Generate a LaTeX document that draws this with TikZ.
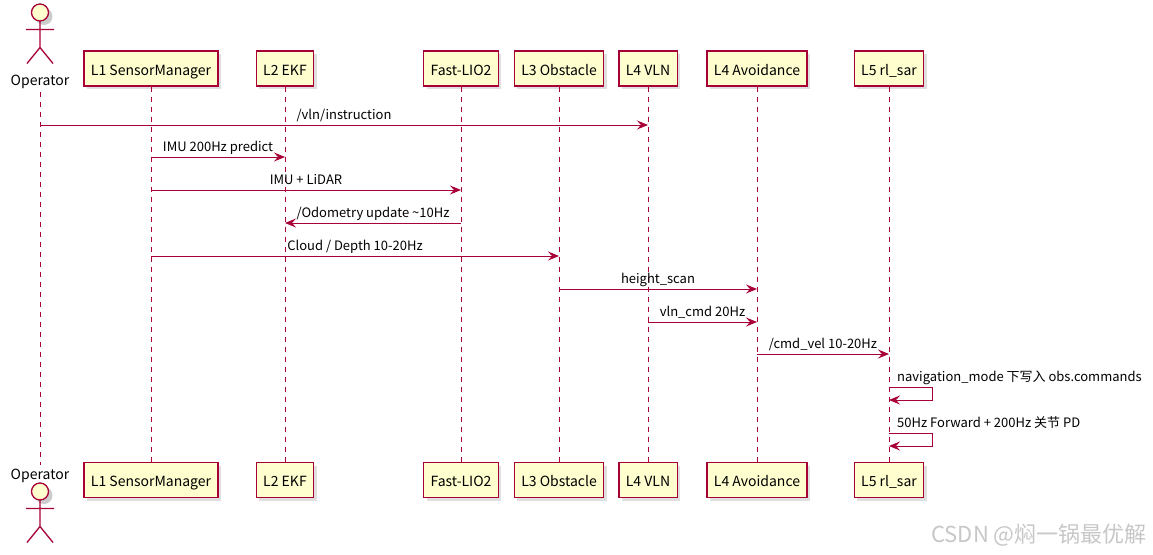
\documentclass[tikz,border=0pt]{standalone}
\usepackage{fontspec}
\setmainfont{Noto Sans CJK SC}
\usetikzlibrary{arrows.meta, positioning, shadows}
\definecolor{umlred}{HTML}{A80036}
\definecolor{umlfill}{HTML}{FEFECE}

\begin{document}
\begin{tikzpicture}[x=1pt,y=-1pt,
    part/.style={draw=umlred,line width=1.3pt,fill=umlfill,minimum height=35pt,inner xsep=7pt,
      text height=14pt,text depth=1pt,font=\fontsize{14}{16}\selectfont,
      drop shadow={shadow xshift=3pt,shadow yshift=-3pt,opacity=.25}},
    actorname/.style={anchor=base,inner sep=0pt,font=\fontsize{14}{16}\selectfont},
    life/.style={umlred,line width=.8pt,dash pattern=on 5pt off 5pt},
    msg/.style={umlred,line width=1pt,-{Stealth[length=11pt,width=9pt,inset=4pt]}},
    lbl/.style={anchor=base,inner sep=0pt,yshift=6pt,font=\fontsize{13}{15}\selectfont,text=black},
    actor/.pic={
      \fill[black,opacity=.2] (4,4) circle[radius=8.5];
      \draw[umlred,line width=1.3pt,fill=umlfill] (0,0) circle[radius=8.5];
      \draw[umlred,line width=1.3pt] (0,8.5) -- (0,35) (-14,17) -- (14,17) (-13,51) -- (0,35) -- (13,51);
    }]
  \useasboundingbox[fill=white] (0,0) rectangle (1153,554);

  % participants
  \foreach \n/\x/\t in {sm/151/L1 SensorManager, ekf/285/L2 EKF, lio/461/Fast-LIO2,
      obs/559/L3 Obstacle, vln/648/L4 VLN, avd/757/L4 Avoidance, rl/889/L5 rl\_sar} {
    \node[part] (\n-top) at (\x,68.5) {\t};
    \node[part] (\n-bot) at (\x,480) {\t};
    \draw[life] (\n-top) -- (\n-bot);
  }

  % actor
  \pic at (40,12.5) {actor};
  \pic at (40,491.5) {actor};
  \node[actorname] (op-top) at (40,85.5) {Operator};
  \node[actorname] (op-bot) at (40,479) {Operator};
  \draw[life] ([yshift=-3pt]op-top.south) -- ([yshift=3pt]op-bot.north);

  % messages
  \draw[msg] (op-top |- 0,125) -- node[lbl] {/vln/instruction} (vln-top |- 0,125);
  \draw[msg] (sm-top |- 0,157) -- node[lbl] {IMU 200Hz predict} (ekf-top |- 0,157);
  \draw[msg] (sm-top |- 0,190) -- node[lbl] {IMU + LiDAR} (lio-top |- 0,190);
  \draw[msg] (lio-top |- 0,223) -- node[lbl] {/Odometry update \textasciitilde10Hz} (ekf-top |- 0,223);
  \draw[msg] (sm-top |- 0,256) -- node[lbl] {Cloud / Depth 10-20Hz} (obs-top |- 0,256);
  \draw[msg] (obs-top |- 0,289) -- node[lbl] {height\_scan} (avd-top |- 0,289);
  \draw[msg] (vln-top |- 0,322) -- node[lbl] {vln\_cmd 20Hz} (avd-top |- 0,322);
  \draw[msg] (avd-top |- 0,354) -- node[lbl] {/cmd\_vel 10-20Hz} (rl-top |- 0,354);

  % self messages
  \draw[msg] (rl-top |- 0,387) -- ++(43,0) -- ++(0,13) -- (rl-top |- 0,400);
  \node[lbl,anchor=base west] (mode) at (897,387) {navigation\_mode 下写入 obs.commands};
  \draw[msg] (rl-top |- 0,433) -- ++(43,0) -- ++(0,13) -- (rl-top |- 0,446);
  \node[lbl,anchor=base west] (pd) at (897,433) {50Hz Forward + 200Hz 关节 PD};

  \node[text=black!22,font=\fontsize{22}{24}\selectfont] (wm) at (1039,535) {CSDN @焖一锅最优解};
\end{tikzpicture}
\end{document}
